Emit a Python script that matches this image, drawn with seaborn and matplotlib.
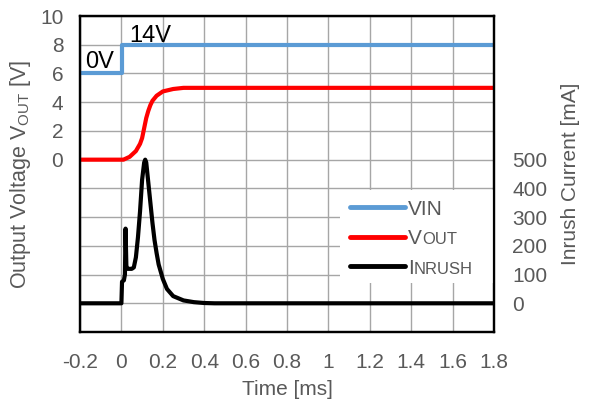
import matplotlib
matplotlib.use("Agg")
import matplotlib.pyplot as plt
import seaborn as sns
import numpy as np
import pandas as pd
from matplotlib.lines import Line2D
from matplotlib.patches import Rectangle

# ---- data ----
time_vin = [-0.2, 0.003, 0.003, 1.8]
vin_level = [6, 6, 8, 8]

time_vout = [-0.2, 0.0, 0.01, 0.04, 0.07, 0.09, 0.10, 0.11, 0.12, 0.13, 0.14,
             0.15, 0.17, 0.20, 0.25, 0.30, 1.8]
vout = [0, 0, 0, 0.2, 0.6, 1.1, 1.5, 2.2, 2.9, 3.4, 3.8,
        4.1, 4.45, 4.75, 4.92, 5.0, 5.0]

time_inrush = [-0.2, 0.0, 0.003, 0.012, 0.017, 0.020, 0.024, 0.03, 0.05, 0.06,
               0.07, 0.08, 0.09, 0.10, 0.11, 0.115, 0.12, 0.13, 0.14, 0.15,
               0.16, 0.17, 0.18, 0.20, 0.22, 0.25, 0.30, 0.35, 0.40, 0.45, 1.8]
inrush = [0, 0, 75, 80, 100, 260, 130, 120, 120, 125,
          160, 230, 320, 430, 490, 500, 490, 420, 350, 280,
          220, 175, 135, 85, 50, 25, 10, 4, 1, 0, 0]

x_ticks = [-0.2, 0, 0.2, 0.4, 0.6, 0.8, 1.0, 1.2, 1.4, 1.6, 1.8]
x_tick_labels = ["-0.2", "0", "0.2", "0.4", "0.6", "0.8", "1", "1.2", "1.4", "1.6", "1.8"]
left_ticks = [0, 2, 4, 6, 8, 10]
right_ticks = [0, 100, 200, 300, 400, 500]
# legend labels: leading capital + small-caps remainder
series_label_heads = ["VIN", "V", "I"]
series_label_tails = ["", "OUT", "NRUSH"]

# ---- style ----
sns.set_style("white")
plt.rcParams["font.family"] = ["Liberation Sans", "DejaVu Sans"]
GRAY = "#595959"
BLUE = "#5B9BD5"
RED = "#FF0000"
FS = 15

W_PX, H_PX = 590, 401
fig = plt.figure(figsize=(W_PX / 100, H_PX / 100), dpi=100)
ax = fig.add_axes([0.1356, 0.172, 0.7017, 0.788])
ax2 = ax.twinx()

df_vin = pd.DataFrame({"t": time_vin, "v": vin_level})
df_vout = pd.DataFrame({"t": time_vout, "v": vout})
df_in = pd.DataFrame({"t": time_inrush, "i": inrush})

sns.lineplot(data=df_vin, x="t", y="v", ax=ax, color=BLUE, lw=3,
             estimator=None, sort=False, legend=False)
sns.lineplot(data=df_vout, x="t", y="v", ax=ax, color=RED, lw=3,
             estimator=None, sort=False, legend=False)
sns.lineplot(data=df_in, x="t", y="i", ax=ax2, color="black", lw=3,
             estimator=None, sort=False, legend=False)

ax.set_xlim(-0.2, 1.8)
ax.set_ylim(-12, 10)
ax2.set_ylim(-100, 1000)

grid_ticks = np.arange(-12, 11, 2)
ax.set_yticks(grid_ticks)
ax.set_yticklabels([str(int(v)) if v in left_ticks else "" for v in grid_ticks])
ax.set_xticks(x_ticks)
ax.set_xticklabels(x_tick_labels)
ax2.set_yticks(right_ticks)
ax2.set_yticklabels([str(v) for v in right_ticks])

ax.grid(True, color="#a6a6a6", lw=1)
ax2.grid(False)

for a in (ax, ax2):
    for s in a.spines.values():
        s.set_color("black")
        s.set_linewidth(1.6)
ax.tick_params(axis="both", length=0, labelsize=FS, labelcolor=GRAY)
ax.tick_params(axis="y", pad=12)
ax.tick_params(axis="x", pad=15)
ax2.tick_params(axis="y", length=0, labelsize=FS, labelcolor=GRAY, pad=13)

ax.set_xlabel("Time [ms]", fontsize=FS, color=GRAY, labelpad=6)
ax.set_ylabel("Output Voltage V$_\\mathregular{OUT}$ [V]", fontsize=15.5, color=GRAY, labelpad=5)
ax2.set_ylabel("Inrush Current [mA]", fontsize=FS, color=GRAY, labelpad=10)

ax.text(-0.175, 6.38, "0V", fontsize=17, color="black", va="baseline")
ax.text(0.04, 8.2, "14V", fontsize=17, color="black", va="baseline")

# white legend background (hides the grid behind the legend)
ax2.add_patch(Rectangle((0.628, 0.155), 0.369, 0.294, transform=ax2.transAxes,
                        facecolor="white", edgecolor="none", zorder=2.5))

handles = [Line2D([], [], color=c, lw=3.5) for c in (BLUE, RED, "black")]
leg = ax2.legend(handles, series_label_heads, loc="upper left", bbox_to_anchor=(0.633, 0.445),
                 frameon=False, fontsize=15, handlelength=2.6, handletextpad=0.15,
                 labelspacing=0.5, borderaxespad=0, borderpad=0.4,
                 labelcolor=GRAY)
leg.set_zorder(5)

fig.canvas.draw()
for txt, tail in zip(leg.texts, series_label_tails):
    if not tail:
        continue
    bb = txt.get_window_extent()
    _, y_base = txt.get_transform().transform(txt.get_position())
    fig.text(bb.x1 / W_PX + 0.001, y_base / H_PX, tail, fontsize=12, color=GRAY,
             ha="left", va="baseline", zorder=6)

fig.savefig("out.png", dpi=100)
